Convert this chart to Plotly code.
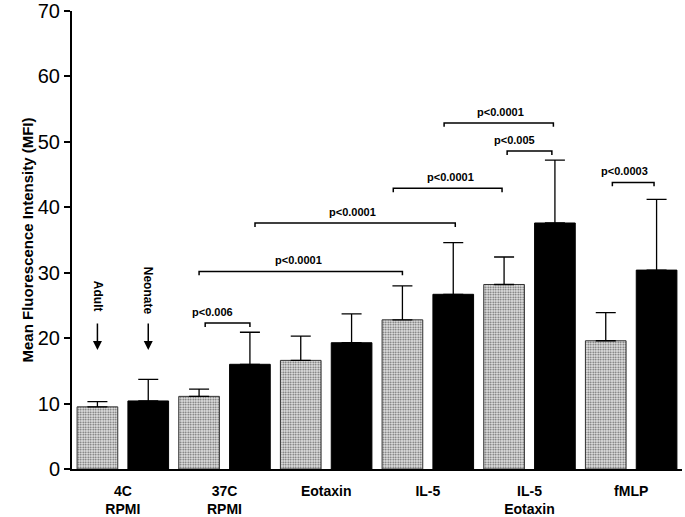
import plotly.graph_objects as go

categories = ["4C<br>RPMI", "37C<br>RPMI", "Eotaxin", "IL-5", "IL-5<br>Eotaxin", "fMLP"]
adult_mean = [9.5, 11.1, 16.6, 22.8, 28.2, 19.6]
adult_top = [10.3, 12.2, 20.3, 28.0, 32.4, 23.9]
neonate_mean = [10.4, 16.0, 19.3, 26.7, 37.6, 30.4]
neonate_top = [13.7, 20.9, 23.7, 34.6, 47.2, 41.2]

# significance brackets: bar-slot positions (0..11), level, label, label position
br_x0 = [2.12, 2.0, 3.1, 5.82, 6.82, 8.06, 10.13]
br_x1 = [3.0, 6.0, 7.04, 7.96, 8.97, 8.94, 10.95]
br_y = [22.3, 30.2, 37.6, 42.9, 52.9, 48.6, 43.8]
br_labels = ["p<0.006", "p<0.0001", "p<0.0001", "p<0.0001", "p<0.0001", "p<0.005", "p<0.0003"]
br_label_x = [2.27, 3.95, 5.01, 6.94, 7.92, 8.21, 10.36]

n = len(categories)
adult_x = [2 * i for i in range(n)]
neonate_x = [2 * i + 1 for i in range(n)]
group_x = [2 * i + 0.5 for i in range(n)]

fig = go.Figure()
fig.add_trace(go.Bar(
    x=adult_x, y=adult_mean, width=0.8, name="Adult",
    marker=dict(color="#e0e0e0", line=dict(color="#333333", width=1),
                pattern=dict(shape=".", fgcolor="#606060", bgcolor="#e8e8e8",
                             size=2.5, solidity=0.4)),
    error_y=dict(type="data", symmetric=False,
                 array=[t - m for t, m in zip(adult_top, adult_mean)],
                 arrayminus=[0] * n, color="black", thickness=1.3, width=10),
))
fig.add_trace(go.Bar(
    x=neonate_x, y=neonate_mean, width=0.8, name="Neonate",
    marker=dict(color="black", line=dict(color="black", width=1)),
    error_y=dict(type="data", symmetric=False,
                 array=[t - m for t, m in zip(neonate_top, neonate_mean)],
                 arrayminus=[0] * n, color="black", thickness=1.3, width=10),
))

tick = 0.6
for x0, x1, yv, lab, lx in zip(br_x0, br_x1, br_y, br_labels, br_label_x):
    fig.add_trace(go.Scatter(
        x=[x0, x0, x1, x1], y=[yv - tick, yv, yv, yv - tick], mode="lines",
        line=dict(color="black", width=1.5), hoverinfo="skip"))
    fig.add_annotation(x=lx, y=yv, text="<b>" + lab + "</b>", showarrow=False,
                       yanchor="middle", yshift=11,
                       font=dict(family="Arial", size=11, color="black"))

# Adult / Neonate arrows
for xv, lab, ty in [(adult_x[0], "Adult", 26.4), (neonate_x[0], "Neonate", 27.2)]:
    fig.add_annotation(x=xv, y=18.2, ax=0, ay=-28, text="", showarrow=True,
                       arrowhead=2, arrowsize=1.2, arrowwidth=1.5, arrowcolor="black")
    fig.add_annotation(x=xv, y=ty, text="<b>" + lab + "</b>", showarrow=False,
                       textangle=90, font=dict(family="Arial", size=12, color="black"))

fig.update_layout(
    template="none",
    width=685, height=517,
    margin=dict(l=72, r=3, t=11, b=48),
    plot_bgcolor="white", paper_bgcolor="white",
    showlegend=False, barmode="overlay",
    font=dict(family="Arial", color="black"),
    xaxis=dict(range=[-0.5, 11.5], tickvals=group_x, ticktext=categories,
               automargin=False, ticklabelstandoff=8,
               showgrid=False, zeroline=False, showline=True, linecolor="black",
               linewidth=1.5, ticks="", tickfont=dict(family="Arial", size=14, weight="bold")),
    yaxis=dict(range=[0, 70], tickvals=[0, 10, 20, 30, 40, 50, 60, 70],
               automargin=False, ticklabeloverflow="allow",
               showgrid=False, zeroline=False, showline=True, linecolor="black",
               linewidth=2, ticks="outside", ticklen=6, tickwidth=2, tickcolor="black",
               tickfont=dict(family="Arial", size=20),
               title=dict(text="<b>Mean Fluorescence Intensity (MFI)</b>",
                          font=dict(family="Arial", size=15), standoff=1)),
)

fig.write_html("out.html", config={"displayModeBar": False},
               post_script="document.body.style.margin='0';document.body.style.overflow='hidden';")
